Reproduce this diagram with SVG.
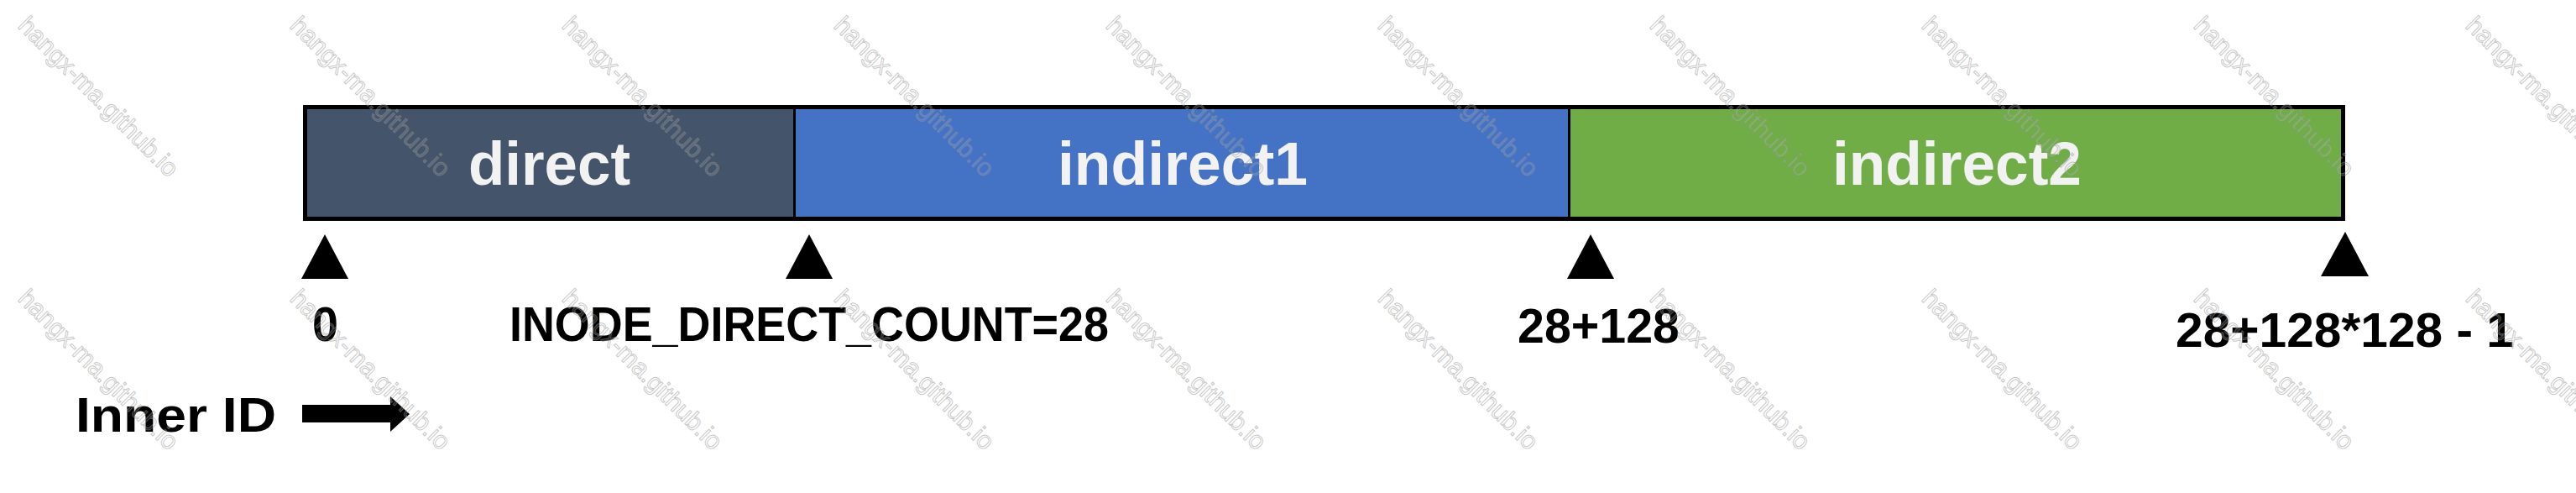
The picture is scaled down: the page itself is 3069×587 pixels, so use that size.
<svg xmlns="http://www.w3.org/2000/svg" width="3069" height="587" viewBox="0 0 3069 587">
<style>
.seg-label{font-family:"Liberation Sans",Arial,sans-serif;font-weight:bold;font-size:72px;fill:#F2F2F2;text-anchor:start}
.lbl{font-family:"Liberation Sans",Arial,sans-serif;font-weight:bold;font-size:57px;fill:#000}
.tick{fill:#000}
.wm{font-family:"Liberation Sans",Arial,sans-serif;font-size:30px;fill:#fff;fill-opacity:0.12;stroke:#8f8f8f;stroke-opacity:0.5;stroke-width:1}
</style>
<rect width="3069" height="587" fill="#fff"/>
<g id="seg-direct">
<rect x="363" y="127" width="584" height="134" fill="#44546A"/>
<text class="seg-label" x="558" y="220" textLength="193" lengthAdjust="spacingAndGlyphs">direct</text>
</g>
<g id="seg-indirect1">
<rect x="947" y="127" width="923" height="134" fill="#4472C4"/>
<text class="seg-label" x="1260" y="220" textLength="298" lengthAdjust="spacingAndGlyphs">indirect1</text>
</g>
<g id="seg-indirect2">
<rect x="1870" y="127" width="922" height="134" fill="#70AD47"/>
<text class="seg-label" x="2183" y="220" textLength="297" lengthAdjust="spacingAndGlyphs">indirect2</text>
</g>
<g id="bar-outline" fill="none" stroke="#000">
<rect x="363.5" y="127.5" width="2428" height="133" stroke-width="5"/>
<line x1="946.5" y1="127" x2="946.5" y2="261" stroke-width="3"/>
<line x1="1869.5" y1="127" x2="1869.5" y2="261" stroke-width="3"/>
</g>
<g id="mark-0">
<polygon class="tick" points="359,332 415,332 387,279"/>
<text class="lbl" x="372" y="406" textLength="31" lengthAdjust="spacingAndGlyphs">0</text>
</g>
<g id="mark-28">
<polygon class="tick" points="936,332 992,332 964,279"/>
<text class="lbl" x="607" y="406" textLength="714" lengthAdjust="spacingAndGlyphs">INODE_DIRECT_COUNT=28</text>
</g>
<g id="mark-156">
<polygon class="tick" points="1867,332 1923,332 1895,279"/>
<text class="lbl" x="1808" y="408" textLength="193" lengthAdjust="spacingAndGlyphs">28+128</text>
</g>
<g id="mark-end">
<polygon class="tick" points="2765,329 2822,329 2794,276"/>
<text class="lbl" x="2592" y="413" textLength="403" lengthAdjust="spacingAndGlyphs">28+128*128 - 1</text>
</g>
<g id="inner-id">
<text class="lbl" x="90" y="514" font-size="61" textLength="239" lengthAdjust="spacingAndGlyphs">Inner ID</text>
</g>
<g id="connectors">
<polygon fill="#000" points="360,482 465,482 465,472 488,493 465,514 465,503 360,503"/>
</g>
<g id="watermarks">
<text class="wm" transform="translate(20,32) rotate(45)">hangx-ma.github.io</text>
<text class="wm" transform="translate(344,32) rotate(45)">hangx-ma.github.io</text>
<text class="wm" transform="translate(668,32) rotate(45)">hangx-ma.github.io</text>
<text class="wm" transform="translate(992,32) rotate(45)">hangx-ma.github.io</text>
<text class="wm" transform="translate(1316,32) rotate(45)">hangx-ma.github.io</text>
<text class="wm" transform="translate(1640,32) rotate(45)">hangx-ma.github.io</text>
<text class="wm" transform="translate(1964,32) rotate(45)">hangx-ma.github.io</text>
<text class="wm" transform="translate(2288,32) rotate(45)">hangx-ma.github.io</text>
<text class="wm" transform="translate(2612,32) rotate(45)">hangx-ma.github.io</text>
<text class="wm" transform="translate(2936,32) rotate(45)">hangx-ma.github.io</text>
<text class="wm" transform="translate(20,357) rotate(45)">hangx-ma.github.io</text>
<text class="wm" transform="translate(344,357) rotate(45)">hangx-ma.github.io</text>
<text class="wm" transform="translate(668,357) rotate(45)">hangx-ma.github.io</text>
<text class="wm" transform="translate(992,357) rotate(45)">hangx-ma.github.io</text>
<text class="wm" transform="translate(1316,357) rotate(45)">hangx-ma.github.io</text>
<text class="wm" transform="translate(1640,357) rotate(45)">hangx-ma.github.io</text>
<text class="wm" transform="translate(1964,357) rotate(45)">hangx-ma.github.io</text>
<text class="wm" transform="translate(2288,357) rotate(45)">hangx-ma.github.io</text>
<text class="wm" transform="translate(2612,357) rotate(45)">hangx-ma.github.io</text>
<text class="wm" transform="translate(2936,357) rotate(45)">hangx-ma.github.io</text>
</g>
</svg>
